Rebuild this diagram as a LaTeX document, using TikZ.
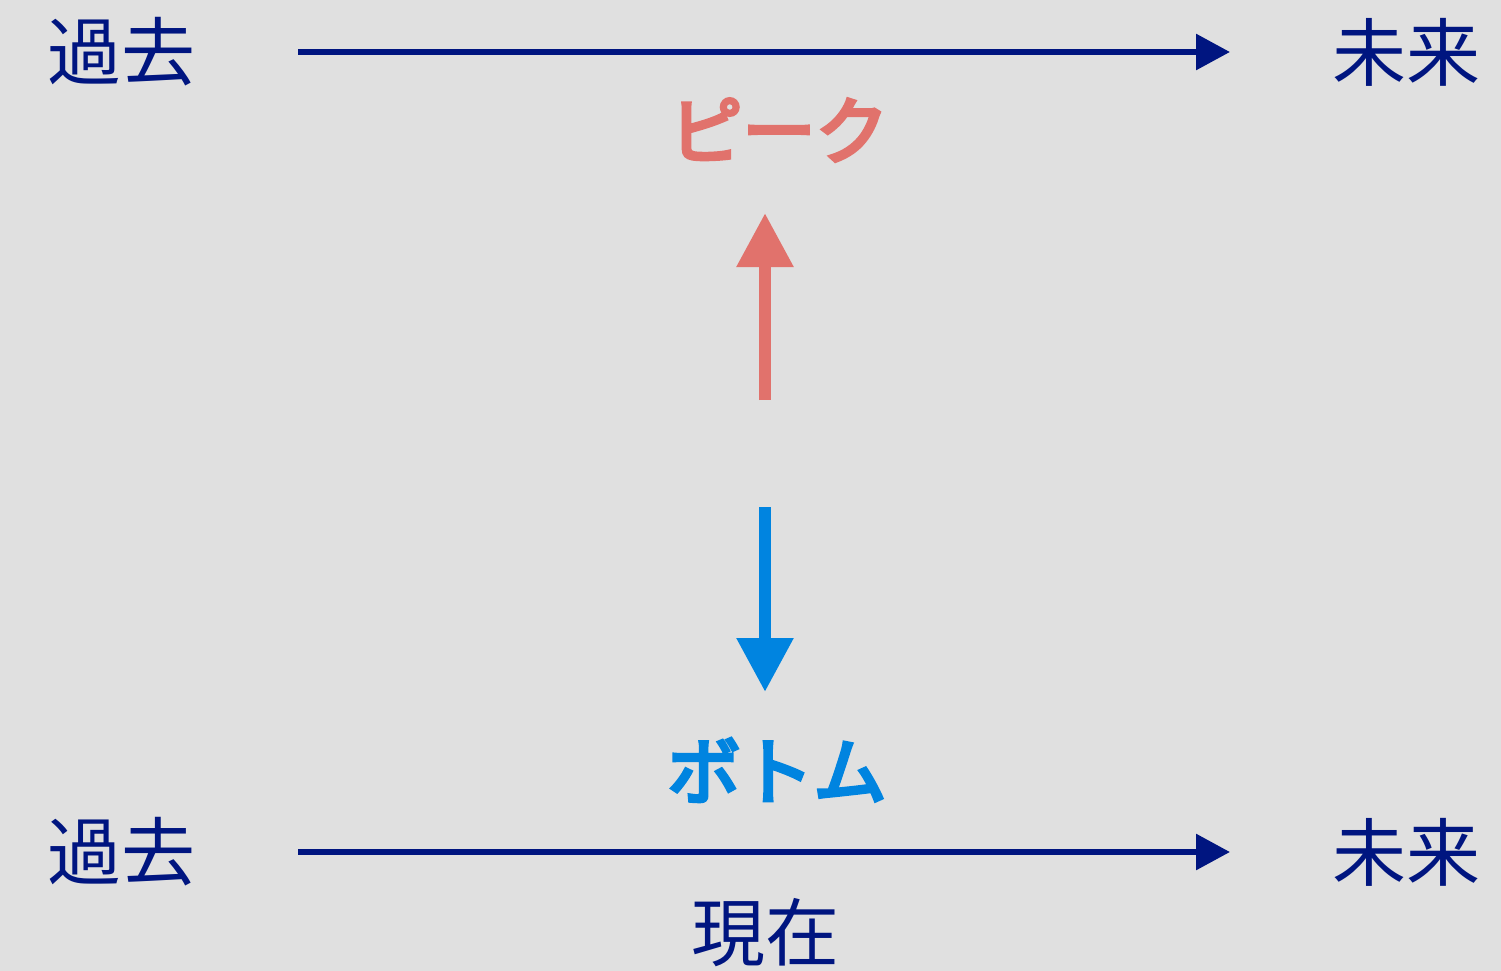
\documentclass[tikz,border=0pt]{standalone}
\usepackage{fontspec}
\newfontfamily\cjk{Noto Sans CJK JP}
\newfontfamily\cjkmed{Noto Sans CJK JP}[FakeBold=5]
\usetikzlibrary{arrows.meta}
\definecolor{bg}{RGB}{224,224,224}
\definecolor{navy}{RGB}{0,21,128}
\definecolor{peakred}{RGB}{225,114,108}
\definecolor{botblue}{RGB}{0,132,224}
\begin{document}
\begin{tikzpicture}[x=1pt,y=-1pt,
  lbl/.style={inner sep=0pt,font=\cjk\fontsize{74}{80}\selectfont,text=navy},
  kata/.style={inner sep=0pt,font=\cjkmed\fontsize{73}{80}\selectfont},
  timeline/.style={draw=navy,line width=6pt,-{Triangle[length=34pt,width=35pt]}},
  bigarrow/.style={line width=12pt,-{Triangle[length=54pt,width=54pt]}}]
\fill[bg] (0,0) rectangle (1501,971);
\useasboundingbox (0,0) rectangle (1501,971);
% top row
\node[lbl] (past1) at (121.5,52) {過去};
\node[lbl] (future1) at (1406.5,52) {未来};
\coordinate (t1s) at (298,52);
\coordinate (t1e) at (1230,52);
\draw[timeline] (t1s) -- (t1e);
\node[kata,text=peakred] (peak) at (779,130) {ピーク};
% red arrow
\coordinate (rs) at (765,400);
\coordinate (re) at (765,213);
\draw[bigarrow,draw=peakred,color=peakred] (rs) -- (re);
% blue arrow
\coordinate (bs) at (765,507);
\coordinate (be) at (765,692);
\draw[bigarrow,draw=botblue,color=botblue] (bs) -- (be);
\node[kata,text=botblue] (bottom) at (777,770) {ボトム};
% bottom row
\node[lbl] (past2) at (121.5,852) {過去};
\node[lbl] (future2) at (1406.5,852) {未来};
\coordinate (t2s) at (298,852);
\coordinate (t2e) at (1230,852);
\draw[timeline] (t2s) -- (t2e);
\node[lbl] (now) at (765,933) {現在};
\end{tikzpicture}
\end{document}
